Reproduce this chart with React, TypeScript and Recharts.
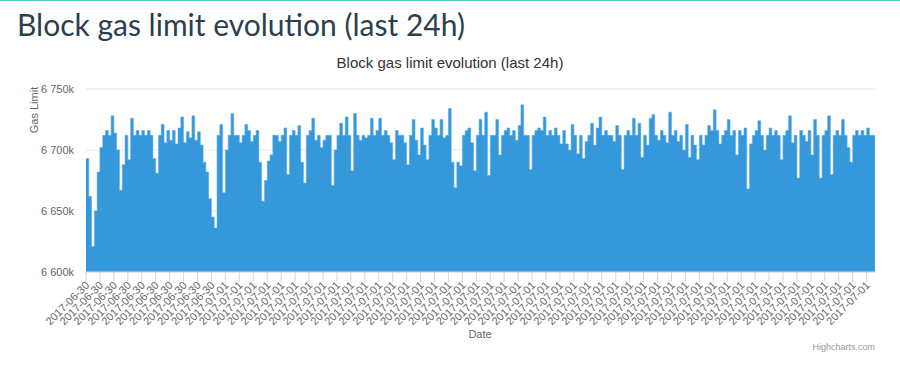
import React from "react";
import { AreaChart, Area, XAxis, YAxis, CartesianGrid } from "recharts";

// Gas limit (in thousands), one sample every 20 blocks over the last 24h
const gasLimitK: number[] = [
  6693, 6662, 6621, 6650, 6682, 6702, 6712, 6716, 6712, 6728,
  6714, 6700, 6667, 6688, 6712, 6692, 6726, 6712, 6716, 6712,
  6716, 6712, 6716, 6712, 6693, 6681, 6712, 6721, 6706, 6716,
  6708, 6716, 6705, 6718, 6727, 6706, 6715, 6710, 6728, 6708,
  6715, 6704, 6690, 6682, 6660, 6645, 6636, 6712, 6721, 6665,
  6700, 6712, 6730, 6712, 6712, 6706, 6712, 6721, 6716, 6707,
  6712, 6716, 6690, 6658, 6675, 6691, 6696, 6712, 6712, 6707,
  6712, 6718, 6680, 6712, 6716, 6712, 6720, 6690, 6673, 6712,
  6716, 6726, 6708, 6712, 6702, 6708, 6712, 6712, 6671, 6700,
  6712, 6722, 6712, 6727, 6712, 6683, 6730, 6712, 6708, 6712,
  6710, 6712, 6726, 6712, 6716, 6726, 6712, 6716, 6712, 6706,
  6692, 6716, 6712, 6712, 6706, 6688, 6712, 6725, 6708, 6696,
  6718, 6704, 6692, 6712, 6725, 6718, 6712, 6725, 6710, 6712,
  6734, 6690, 6669, 6690, 6687, 6712, 6716, 6718, 6706, 6683,
  6712, 6725, 6712, 6731, 6679, 6712, 6712, 6725, 6696, 6712,
  6716, 6718, 6712, 6716, 6708, 6720, 6737, 6712, 6712, 6684,
  6712, 6716, 6718, 6716, 6727, 6712, 6716, 6712, 6718, 6712,
  6705, 6716, 6705, 6700, 6721, 6712, 6697, 6712, 6693, 6707,
  6712, 6722, 6704, 6718, 6727, 6712, 6716, 6712, 6712, 6707,
  6720, 6712, 6684, 6712, 6716, 6712, 6726, 6712, 6722, 6694,
  6712, 6704, 6726, 6729, 6712, 6708, 6716, 6712, 6706, 6731,
  6712, 6716, 6707, 6712, 6700, 6721, 6694, 6712, 6704, 6692,
  6712, 6704, 6712, 6720, 6716, 6733, 6716, 6705, 6712, 6716,
  6725, 6712, 6716, 6696, 6716, 6712, 6718, 6668, 6705, 6712,
  6716, 6724, 6712, 6700, 6712, 6718, 6712, 6716, 6712, 6692,
  6712, 6716, 6728, 6706, 6712, 6677, 6716, 6712, 6707, 6716,
  6696, 6725, 6712, 6677, 6712, 6716, 6728, 6680, 6712, 6716,
  6712, 6725, 6712, 6702, 6690, 6712, 6716, 6712, 6716, 6712,
  6718, 6712, 6712,
];

const BLOCKS_PER_SAMPLE = 20;
const TOTAL_BLOCKS = 5660;
const TICK_EVERY = 100;

const tickLabels: string[] = [
  ...Array(10).fill("2017-06-30"),
  ...Array(47).fill("2017-07-01"),
];
const yTicks: number[] = [6600, 6650, 6700, 6750];

const data = [
  ...gasLimitK.map((v, i) => ({ block: i * BLOCKS_PER_SAMPLE, gas: v })),
  { block: TOTAL_BLOCKS, gas: gasLimitK[gasLimitK.length - 1] },
];
const xTicks = tickLabels.map((_, i) => i * TICK_EVERY);

const AXIS_FONT = "'Liberation Sans', Arial, sans-serif";

const DateTick = (props: any) => {
  const { x, y, payload } = props;
  const label = tickLabels[Math.round(payload.value / TICK_EVERY)] ?? "";
  return (
    <g transform={`translate(${x + 4},${y + 4})`}>
      <text
        x={0}
        y={0}
        textAnchor="end"
        transform="rotate(-45)"
        fill="#666666"
        fontSize={11}
        fontFamily={AXIS_FONT}
      >
        {label}
      </text>
    </g>
  );
};

const fmtY = (v: number) => {
  const s = String(v);
  return `${s.slice(0, 1)} ${s.slice(1)}k`;
};

export default function App() {
  return (
    <div
      style={{
        position: "absolute",
        left: 0,
        top: 0,
        width: 900,
        height: 369,
        background: "#ffffff",
        overflow: "hidden",
      }}
    >
      <div
        style={{
          position: "absolute",
          left: 0,
          top: 0,
          width: 900,
          height: 1,
          background: "#58cfbd",
        }}
      />
      <div
        style={{
          position: "absolute",
          left: 17,
          top: 6,
          fontFamily: "Lato, sans-serif",
          fontSize: 30,
          lineHeight: "36px",
          color: "#2c3e50",
          whiteSpace: "nowrap",
        }}
      >
        Block gas limit evolution (last 24h)
      </div>
      <div style={{ position: "absolute", left: 0, top: 0 }}>
        <AreaChart
          width={900}
          height={369}
          data={data}
          margin={{ top: 89, right: 25, bottom: 37, left: 26 }}
        >
          <CartesianGrid vertical={false} stroke="#e6e6e6" />
          <XAxis
            dataKey="block"
            type="number"
            domain={[0, TOTAL_BLOCKS]}
            ticks={xTicks}
            interval={0}
            tick={<DateTick />}
            tickSize={10}
            tickMargin={0}
            axisLine={{ stroke: "#ccd6eb" }}
            tickLine={{ stroke: "#ccd6eb" }}
            height={60}
            allowDataOverflow
          />
          <YAxis
            type="number"
            domain={[6600, 6750]}
            ticks={yTicks}
            tickFormatter={fmtY}
            axisLine={false}
            tickLine={false}
            tickSize={0}
            tickMargin={12}
            width={60}
            allowDataOverflow
            tick={{ fill: "#666666", fontSize: 11, fontFamily: AXIS_FONT }}
          />
          <Area
            type="stepAfter"
            dataKey="gas"
            fill="#3498db"
            fillOpacity={1}
            stroke="#62ace3"
            strokeWidth={0.6}
            isAnimationActive={false}
            dot={false}
            activeDot={false}
          />
        </AreaChart>
      </div>
      <svg
        width={900}
        height={369}
        style={{ position: "absolute", left: 0, top: 0, pointerEvents: "none" }}
      >
        <text
          x={450}
          y={68}
          textAnchor="middle"
          fill="#333333"
          fontSize={15}
          fontFamily={AXIS_FONT}
        >
          Block gas limit evolution (last 24h)
        </text>
        <text
          x={0}
          y={0}
          transform="translate(38,110) rotate(-90)"
          textAnchor="middle"
          fill="#666666"
          fontSize={11}
          fontFamily={AXIS_FONT}
        >
          Gas Limit
        </text>
        <text
          x={480}
          y={338}
          textAnchor="middle"
          fill="#666666"
          fontSize={11}
          fontFamily={AXIS_FONT}
        >
          Date
        </text>
        <text
          x={875}
          y={350}
          textAnchor="end"
          fill="#999999"
          fontSize={9}
          fontFamily={AXIS_FONT}
        >
          Highcharts.com
        </text>
      </svg>
    </div>
  );
}
